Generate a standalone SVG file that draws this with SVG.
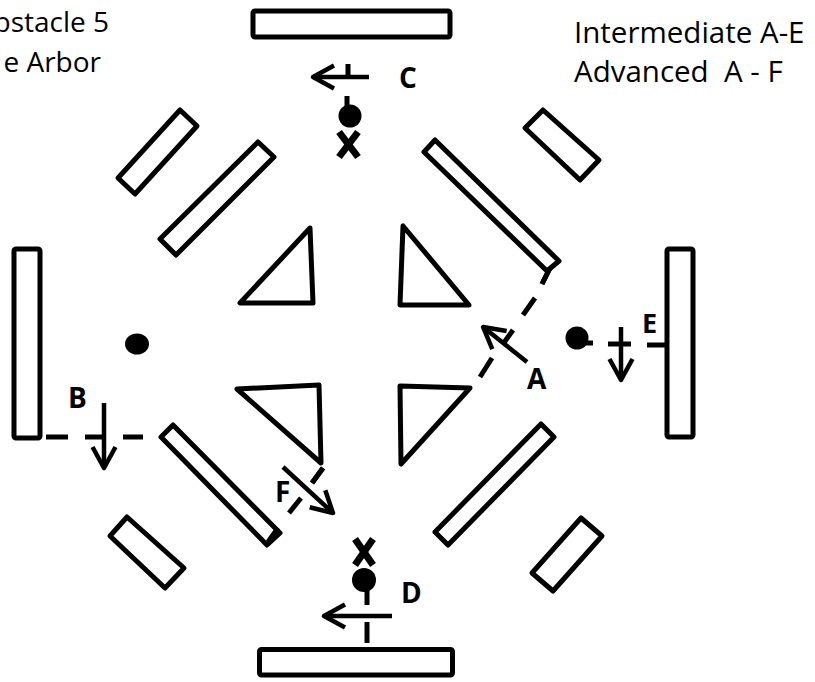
<svg xmlns="http://www.w3.org/2000/svg" width="815" height="682" viewBox="0 0 815 682">
<style>
.bar{fill:#fff;stroke:#000;stroke-width:5;stroke-linejoin:round}
.tri{fill:#fff;stroke:#000;stroke-width:5;stroke-linejoin:round}
.ln{fill:none;stroke:#000;stroke-width:5;stroke-linecap:butt}
.arr{fill:none;stroke:#000;stroke-width:4.5;marker-end:url(#ah)}
.x{fill:none;stroke:#000;stroke-width:7}
.dot{fill:#000}
.txt{font-family:"Open Sans","Liberation Sans",sans-serif;font-size:29.5px;fill:#000}
.lbl{font-family:"Open Sans","Liberation Sans",sans-serif;font-size:28px;font-weight:700;fill:#000}
</style>
<defs>
<marker id="ah" markerUnits="userSpaceOnUse" markerWidth="40" markerHeight="40" viewBox="-30 -20 40 40" refX="0" refY="0" orient="auto" overflow="visible">
<path d="M-19,-11.5 L2,0 L-19,11.5" fill="none" stroke="#000" stroke-width="4.5" stroke-linejoin="round" stroke-linecap="butt"/>
</marker>
</defs>
<rect width="815" height="682" fill="#fff"/>

<g id="connectors">
<line class="ln" x1="550" y1="268" x2="542" y2="284"/>
<line class="ln" x1="535" y1="298" x2="523" y2="315"/>
<line class="ln" x1="513" y1="330" x2="503" y2="344"/>
<line class="ln" x1="492" y1="358" x2="480" y2="377"/>
<line class="ln" x1="578" y1="343" x2="593" y2="343"/>
<line class="ln" x1="608" y1="344" x2="631" y2="344"/>
<line class="ln" x1="647" y1="345" x2="667" y2="345"/>
<line class="ln" x1="46" y1="437" x2="68" y2="437"/>
<line class="ln" x1="85" y1="437" x2="104" y2="437"/>
<line class="ln" x1="123" y1="437" x2="143" y2="437"/>
<line class="ln" x1="323" y1="468" x2="312" y2="483"/>
<line class="ln" x1="301" y1="498" x2="289" y2="513"/>
<line class="ln" x1="278" y1="528" x2="268" y2="542"/>
<line class="ln" x1="348" y1="64" x2="348" y2="77"/>
<line class="ln" x1="347" y1="96" x2="347" y2="110"/>
<line class="ln" x1="367" y1="585" x2="367" y2="605"/>
<line class="ln" x1="367" y1="622" x2="367" y2="643"/>
<line class="arr" x1="369" y1="77" x2="315" y2="77"/>
<line class="arr" x1="392" y1="616" x2="326" y2="616"/>
<line class="arr" x1="104" y1="403" x2="104" y2="466"/>
<line class="arr" x1="621" y1="327" x2="621" y2="378"/>
<line class="arr" x1="527" y1="362" x2="484.6" y2="328.2"/>
<line class="arr" x1="283" y1="467" x2="331.5" y2="511.6"/>
</g>

<g id="walls">
<rect id="bar-top" class="bar" x="253" y="11" width="197" height="26" rx="2"/>
<rect id="bar-bottom" class="bar" x="259.5" y="649.5" width="193" height="25.5" rx="2"/>
<rect id="bar-left" class="bar" x="14" y="249" width="26" height="189" rx="2"/>
<rect id="bar-right" class="bar" x="667" y="249" width="26" height="188" rx="2"/>
<polygon id="bar-tl-small" class="bar" points="180,110 197,126 135,194 118,178"/>
<polygon id="bar-tl-long" class="bar" points="258,142 274,157 176,255 160,239"/>
<polygon id="bar-tr-long" class="bar" points="435,140 424,152 547,271 559,261"/>
<polygon id="bar-tr-small" class="bar" points="543,110 525,128 580,180 599,160"/>
<polygon id="bar-bl-long" class="bar" points="173,425 161,437 267,545 280,533"/>
<polygon id="bar-bl-small" class="bar" points="127,517 110,536 165,588 184,568"/>
<polygon id="bar-br-long" class="bar" points="541,424 554,437 448,545 435,532"/>
<polygon id="bar-br-small" class="bar" points="581,518 602,536 553,591 532,573"/>
</g>

<g id="triangles">
<polygon id="tri-tl" class="tri" points="310,228 240,303 313,303"/>
<polygon id="tri-tr" class="tri" points="403,226 400,305 469,305"/>
<polygon id="tri-br" class="tri" points="400,386 470,388 401,464"/>
<polygon id="tri-bl" class="tri" points="237,389 319,385 321,463"/>
</g>

<g id="dash-ends">
<line class="ln" x1="323" y1="468" x2="312" y2="483"/>
<line class="ln" x1="278" y1="528" x2="268" y2="542"/>
<line class="ln" x1="550" y1="268" x2="542" y2="284"/>
</g>

<g id="markers">
<circle id="dot-c" class="dot" cx="350" cy="116" r="11.5"/>
<circle id="dot-d" class="dot" cx="364" cy="580" r="12"/>
<circle id="dot-e" class="dot" cx="577" cy="338" r="11.5"/>
<ellipse id="dot-left" class="dot" cx="137" cy="344" rx="12" ry="10.5"/>
<g id="x-c"><line class="x" x1="339" y1="132" x2="358" y2="157"/><line class="x" x1="358" y1="132" x2="339" y2="157"/></g>
<g id="x-d"><line class="x" x1="355" y1="539" x2="373" y2="565"/><line class="x" x1="373" y1="539" x2="355" y2="565"/></g>
</g>

<g id="labels">
<text class="lbl" x="399" y="88">C</text>
<text class="lbl" x="527" y="389">A</text>
<text class="lbl" x="642" y="333" style="font-size:27px">E</text>
<text class="lbl" x="68" y="408">B</text>
<text class="lbl" x="275" y="502">F</text>
<text class="lbl" x="401" y="603">D</text>
</g>

<g id="titles">
<text class="txt" x="109" y="32" text-anchor="end" style="font-size:28px">Obstacle 5</text>
<text class="txt" x="101" y="72" text-anchor="end" style="font-size:28px">e Arbor</text>
<text class="txt" x="574" y="43">Intermediate A-E</text>
<text class="txt" x="574" y="82" xml:space="preserve">Advanced  A - F</text>
</g>
</svg>
